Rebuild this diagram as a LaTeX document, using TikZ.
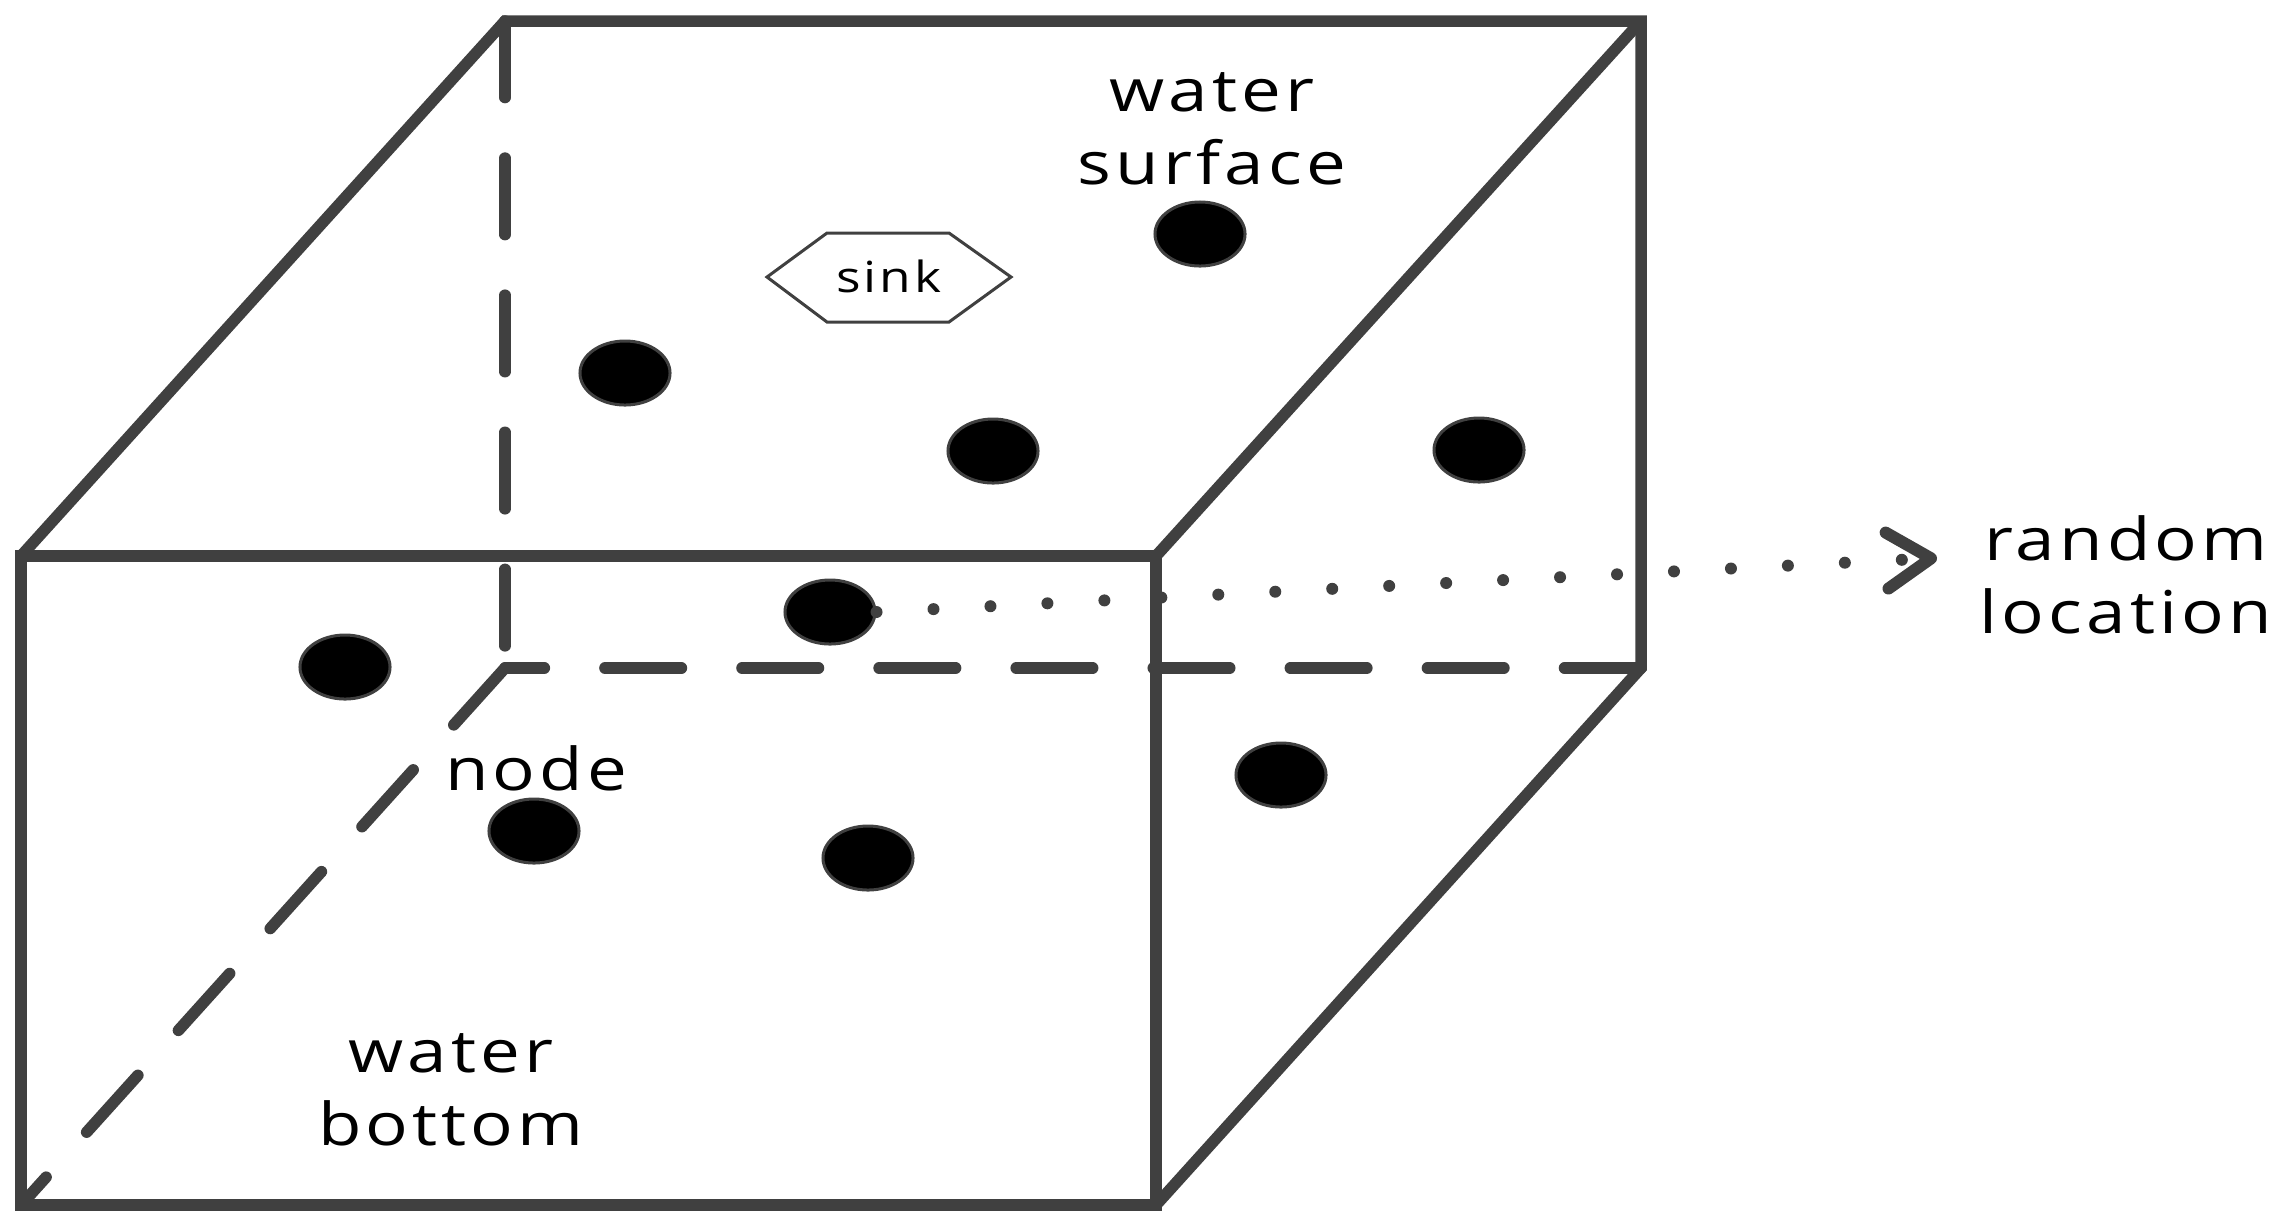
\documentclass[tikz,border=0pt]{standalone}
\usepackage{fontspec}
\newfontfamily\lblfont{Open Sans}[FakeStretch=1.2, LetterSpace=7]
\usetikzlibrary{arrows.meta,shapes.geometric}
\definecolor{linegray}{HTML}{404040}
\begin{document}
\begin{tikzpicture}[x=0.01cm, y=-0.01cm,
  edgeline/.style={draw=linegray, line width=0.115cm},
  hidden/.style={edgeline, line cap=round, dash pattern=on 0.765cm off 0.605cm},
  nodedot/.style={ellipse, fill=black, draw=linegray, line width=0.03cm, minimum width=0.9cm, minimum height=0.64cm, inner sep=0pt},
  lbl/.style={font=\lblfont\fontsize{16.8}{20.5}\selectfont, text=black, align=center, inner sep=0pt},
  smalllbl/.style={font=\lblfont\fontsize{12.2}{14}\selectfont, text=black, inner sep=0pt},
  hexline/.style={draw=linegray, line width=0.03cm},
  dotline/.style={draw=linegray, line width=0.12cm, line cap=round, dash pattern=on 0pt off 0.57cm,
    -{Straight Barb[length=0.44cm, width=0.56cm, round]}}
]
\useasboundingbox (0,0) rectangle (2283,1223);
% cube corners
\coordinate (BTL) at (505,21);
\coordinate (BTR) at (1641,21);
\coordinate (BBR) at (1641,668);
\coordinate (BBL) at (505,668);
\coordinate (FTL) at (21,556);
\coordinate (FTR) at (1156,556);
\coordinate (FBR) at (1156,1205);
\coordinate (FBL) at (21,1205);
% solid edges
\draw[edgeline] (FTL) -- (BTL) -- (BTR) -- (BBR) -- (FBR);
\draw[edgeline] (BTR) -- (FTR);
\draw[edgeline] (FTL) rectangle (FBR);
% hidden edges
\draw[hidden] (BTL) -- (BBL);
\draw[hidden] (BBR) -- (BBL);
\draw[hidden] (BBL) -- (FBL);
% sink
\draw[hexline] (767,277) -- (827,233) -- (949,233) -- (1011,277) -- (949,322) -- (827,322) -- cycle;
\node[smalllbl, anchor=base] (sink) at (889,292) {sink};
% sensor nodes
\node[nodedot] (n1) at (1200,234) {};
\node[nodedot] (n2) at (625,373) {};
\node[nodedot] (n3) at (993,451) {};
\node[nodedot] (n4) at (1479,450) {};
\node[nodedot] (n5) at (830,612) {};
\node[nodedot] (n6) at (345,667) {};
\node[nodedot] (n7) at (1281,775) {};
\node[nodedot] (n8) at (534,831) {};
\node[nodedot] (n9) at (868,858) {};
% labels (anchor=base gives the last line's baseline)
\node[lbl, anchor=base] (surf) at (1212,184) {water\\surface};
\node[lbl, anchor=base] (rand) at (2126,633) {random\\location};
\node[lbl, anchor=base] (nodelbl) at (536,790) {node};
\node[lbl, anchor=base] (bottom) at (451,1145) {water\\bottom};
% dotted arrow
\coordinate (tip) at (1937,558);
\draw[dotline] (n5.east) -- (tip);
\end{tikzpicture}
\end{document}
